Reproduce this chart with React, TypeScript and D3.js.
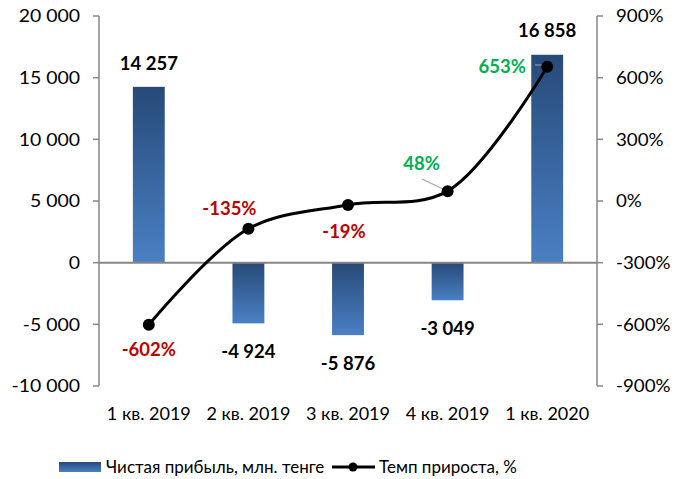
import React from "react";
import * as d3 from "d3";

const categories = ["1 кв. 2019", "2 кв. 2019", "3 кв. 2019", "4 кв. 2019", "1 кв. 2020"];
const profit = [14257, -4924, -5876, -3049, 16858];
const growth = [-602, -135, -19, 48, 653];
const growthLabels = ["-602%", "-135%", "-19%", "48%", "653%"];
const leftTicks = [-10000, -5000, 0, 5000, 10000, 15000, 20000];
const rightTicks = [-900, -600, -300, 0, 300, 600, 900];
const seriesNames = ["Чистая прибыль, млн. тенге", "Темп прироста, %"];

const W = 687, H = 479;
const plotL = 99, plotR = 597, plotT = 16, plotB = 386;
const FONT = "Lato, 'Open Sans', sans-serif";
const AXIS = "#868686";
const RED = "#C00000", GREEN = "#00B050";

const fmt = (v: number) => {
  const s = Math.abs(v).toString().replace(/\B(?=(\d{3})+(?!\d))/g, " ");
  return (v < 0 ? "-" : "") + s;
};

function T(props: { x: number; y: number; sx?: number; anchor?: string; size: number; bold?: boolean; fill?: string; children: React.ReactNode }) {
  const { x, y, sx = 1, anchor = "middle", size, bold, fill = "#000", children } = props;
  return (
    <text transform={`translate(${x},${y}) scale(${sx},1)`} dy="0.36em" textAnchor={anchor as any} fontSize={size} fontWeight={bold ? "bold" : "normal"} fill={fill}>{children}</text>
  );
}

export default function App() {
  const x = d3.scaleBand<string>().domain(categories).range([plotL, plotR]).paddingInner(0.68).paddingOuter(0.34);
  const xc = (c: string) => (x(c) as number) + x.bandwidth() / 2;
  const yL = d3.scaleLinear().domain([-10000, 20000]).range([plotB, plotT]);
  const yR = d3.scaleLinear().domain([-900, 900]).range([plotB, plotT]);
  const line = d3.line<number>()
    .x((_, i) => xc(categories[i]))
    .y((d) => yR(d))
    .curve(d3.curveCatmullRom.alpha(0.5));

  const pctPos = [
    { dx: 0, dy: 25, color: RED },
    { dx: -19, dy: -20, color: RED },
    { dx: -4, dy: 26, color: RED },
    { dx: -26, dy: -28, color: GREEN },
    { dx: -45, dy: 0, color: GREEN },
  ];
  const valDy = [-24, 0, 0, 0, -24];

  return (
    <svg width={W} height={H} style={{ position: "absolute", left: 0, top: 0, fontFamily: FONT }}>
      <defs>
        <linearGradient id="barg" x1="0" y1="0" x2="0" y2="1">
          <stop offset="0%" stopColor="#274A78" />
          <stop offset="100%" stopColor="#4A80C4" />
        </linearGradient>
      </defs>
      <rect width={W} height={H} fill="#fff" />
      {profit.map((v, i) => {
        const c = categories[i];
        const y0 = yL(0), y1 = yL(v);
        return (
          <rect key={c} x={x(c)} width={x.bandwidth()} y={Math.min(y0, y1)} height={Math.abs(y1 - y0)} fill="url(#barg)" />
        );
      })}
      <line x1={plotL} x2={plotR} y1={yL(0)} y2={yL(0)} stroke={AXIS} strokeWidth={2} />
      <line x1={plotL} x2={plotL} y1={plotT} y2={plotB} stroke={AXIS} strokeWidth={1.5} />
      {leftTicks.map((t) => (
        <g key={t}>
          <line x1={plotL - 6} x2={plotL} y1={yL(t)} y2={yL(t)} stroke={AXIS} strokeWidth={1.5} />
          <T x={plotL - 19} y={yL(t)} anchor="end" size={18} sx={1.08}>{fmt(t)}</T>
        </g>
      ))}
      <line x1={plotR} x2={plotR} y1={plotT} y2={plotB} stroke={AXIS} strokeWidth={1.5} />
      {rightTicks.map((t) => (
        <g key={t}>
          <line x1={plotR} x2={plotR + 6} y1={yR(t)} y2={yR(t)} stroke={AXIS} strokeWidth={1.5} />
          <T x={plotR + 19} y={yR(t)} anchor="start" size={18} sx={1.04}>{t + "%"}</T>
        </g>
      ))}
      {categories.map((c) => (
        <T key={c} x={xc(c)} y={414} size={18}>{c}</T>
      ))}
      <line x1={422} y1={179} x2={445} y2={190} stroke="#A6A6A6" strokeWidth={1.2} />
      <polyline points="535,65 543,65 543,68" fill="none" stroke="#A6A6A6" strokeWidth={1.2} />
      <path d={line(growth) as string} fill="none" stroke="#000" strokeWidth={3} />
      {growth.map((g, i) => (
        <circle key={i} cx={xc(categories[i])} cy={yR(g)} r={6} fill="#000" />
      ))}
      {profit.map((v, i) => {
        const c = categories[i];
        const y = v >= 0 ? yL(v) + valDy[i] : yL(v) + 28;
        return (
          <T key={c} x={xc(c)} y={y} size={18.5} bold>{fmt(v)}</T>
        );
      })}
      {growth.map((g, i) => (
        <T key={i} x={xc(categories[i]) + pctPos[i].dx} y={yR(g) + pctPos[i].dy} size={18.5} bold fill={pctPos[i].color}>{growthLabels[i]}</T>
      ))}
      <rect x={59} y={462} width={42} height={10} fill="url(#barg)" />
      <T x={106} y={467} anchor="start" size={17}>{seriesNames[0]}</T>
      <line x1={332} x2={375} y1={467} y2={467} stroke="#000" strokeWidth={3} />
      <circle cx={353} cy={467} r={4.5} fill="#000" />
      <T x={379} y={467} anchor="start" size={17}>{seriesNames[1]}</T>
    </svg>
  );
}
